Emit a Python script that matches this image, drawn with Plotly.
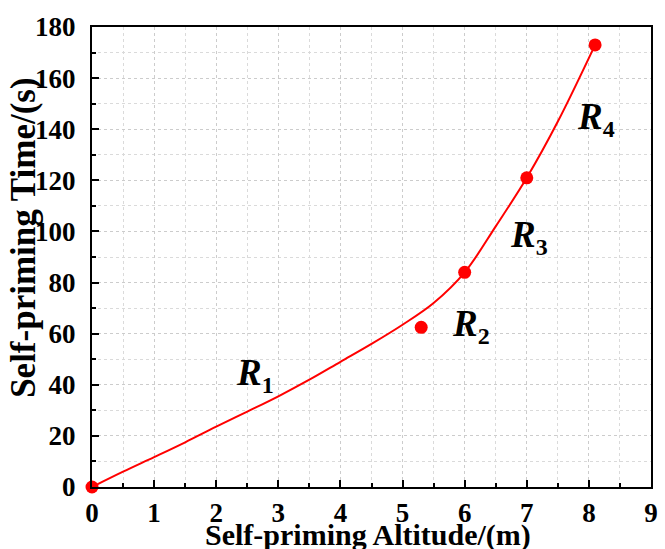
import plotly.graph_objects as go

# measured points
pt_x = [0, 5.3, 6, 7, 8.1]
pt_y = [0, 62.5, 84, 121, 173]

# fitted curve
curve_x = [0, 0.5, 1, 1.5, 2, 2.5, 3, 3.5, 4, 4.5, 5, 5.5, 6, 6.5, 7, 7.5, 8.1]
curve_y = [0, 6, 11.7, 17.5, 23.6, 29.5, 35.5, 42, 49, 56, 63.5, 72, 84, 102, 121, 143, 173]

labels = ["1", "2", "3", "4"]
label_x = [2.62, 6.1, 7.03, 8.12]
label_y = [44, 63, 98, 144]

FONT = "Liberation Serif"

fig = go.Figure()
fig.add_trace(go.Scatter(x=curve_x, y=curve_y, mode="lines",
                         line=dict(color="#ff0000", width=2, shape="spline"),
                         showlegend=False, hoverinfo="skip"))
fig.add_trace(go.Scatter(x=pt_x, y=pt_y, mode="markers",
                         marker=dict(color="#ff0000", size=13),
                         showlegend=False, cliponaxis=False))

for s, lx, ly in zip(labels, label_x, label_y):
    fig.add_annotation(x=lx, y=ly, xref="x", yref="y", showarrow=False,
                       text=f"<b><i>R</i></b><b><sub><span style='font-size:24px'>{s}</span></sub></b>",
                       font=dict(family=FONT, size=37, color="black"))

axis_common = dict(
    showline=True, linecolor="black", linewidth=2, mirror=True,
    ticks="inside", ticklen=7, tickwidth=2, tickcolor="black",
    showgrid=True, gridcolor="#cccccc", gridwidth=1, griddash="dot",
    zeroline=False,
    tickfont=dict(family=FONT, size=27, color="black", weight="bold"),
)

fig.update_xaxes(range=[0, 9], dtick=1, **axis_common, ticklabelstandoff=1,
                 minor=dict(dtick=0.5, ticks="inside", ticklen=4, tickwidth=2, tickcolor="black",
                            showgrid=True, gridcolor="#dadada", griddash="dot"))
fig.update_yaxes(range=[0, 180], dtick=20, **axis_common, ticklabelstandoff=9,
                 minor=dict(dtick=10, ticks="inside", ticklen=4, tickwidth=2, tickcolor="black",
                            showgrid=True, gridcolor="#dadada", griddash="dot"))

W, H = 665, 549
L, R, T, B = 92, 7, 27, 62
pw, ph = W - L - R, H - T - B

fig.add_annotation(x=(371 - L) / pw, y=(H - B - 535) / ph, xref="paper", yref="paper",
                   xanchor="center", yanchor="middle",
                   showarrow=False, text="<b>Self-priming Altitude/(m)</b>",
                   font=dict(family=FONT, size=30, color="black"))
fig.add_annotation(x=(22 - L) / pw, y=(H - B - 237) / ph, xref="paper", yref="paper",
                   xanchor="center", yanchor="middle",
                   showarrow=False, textangle=-90,
                   text="<b>Self-priming Time/(s)</b>",
                   font=dict(family=FONT, size=35, color="black"))

fig.update_layout(width=W, height=H, plot_bgcolor="white", paper_bgcolor="white",
                  margin=dict(l=L, r=R, t=T, b=B))

fig.write_html("out.html")
